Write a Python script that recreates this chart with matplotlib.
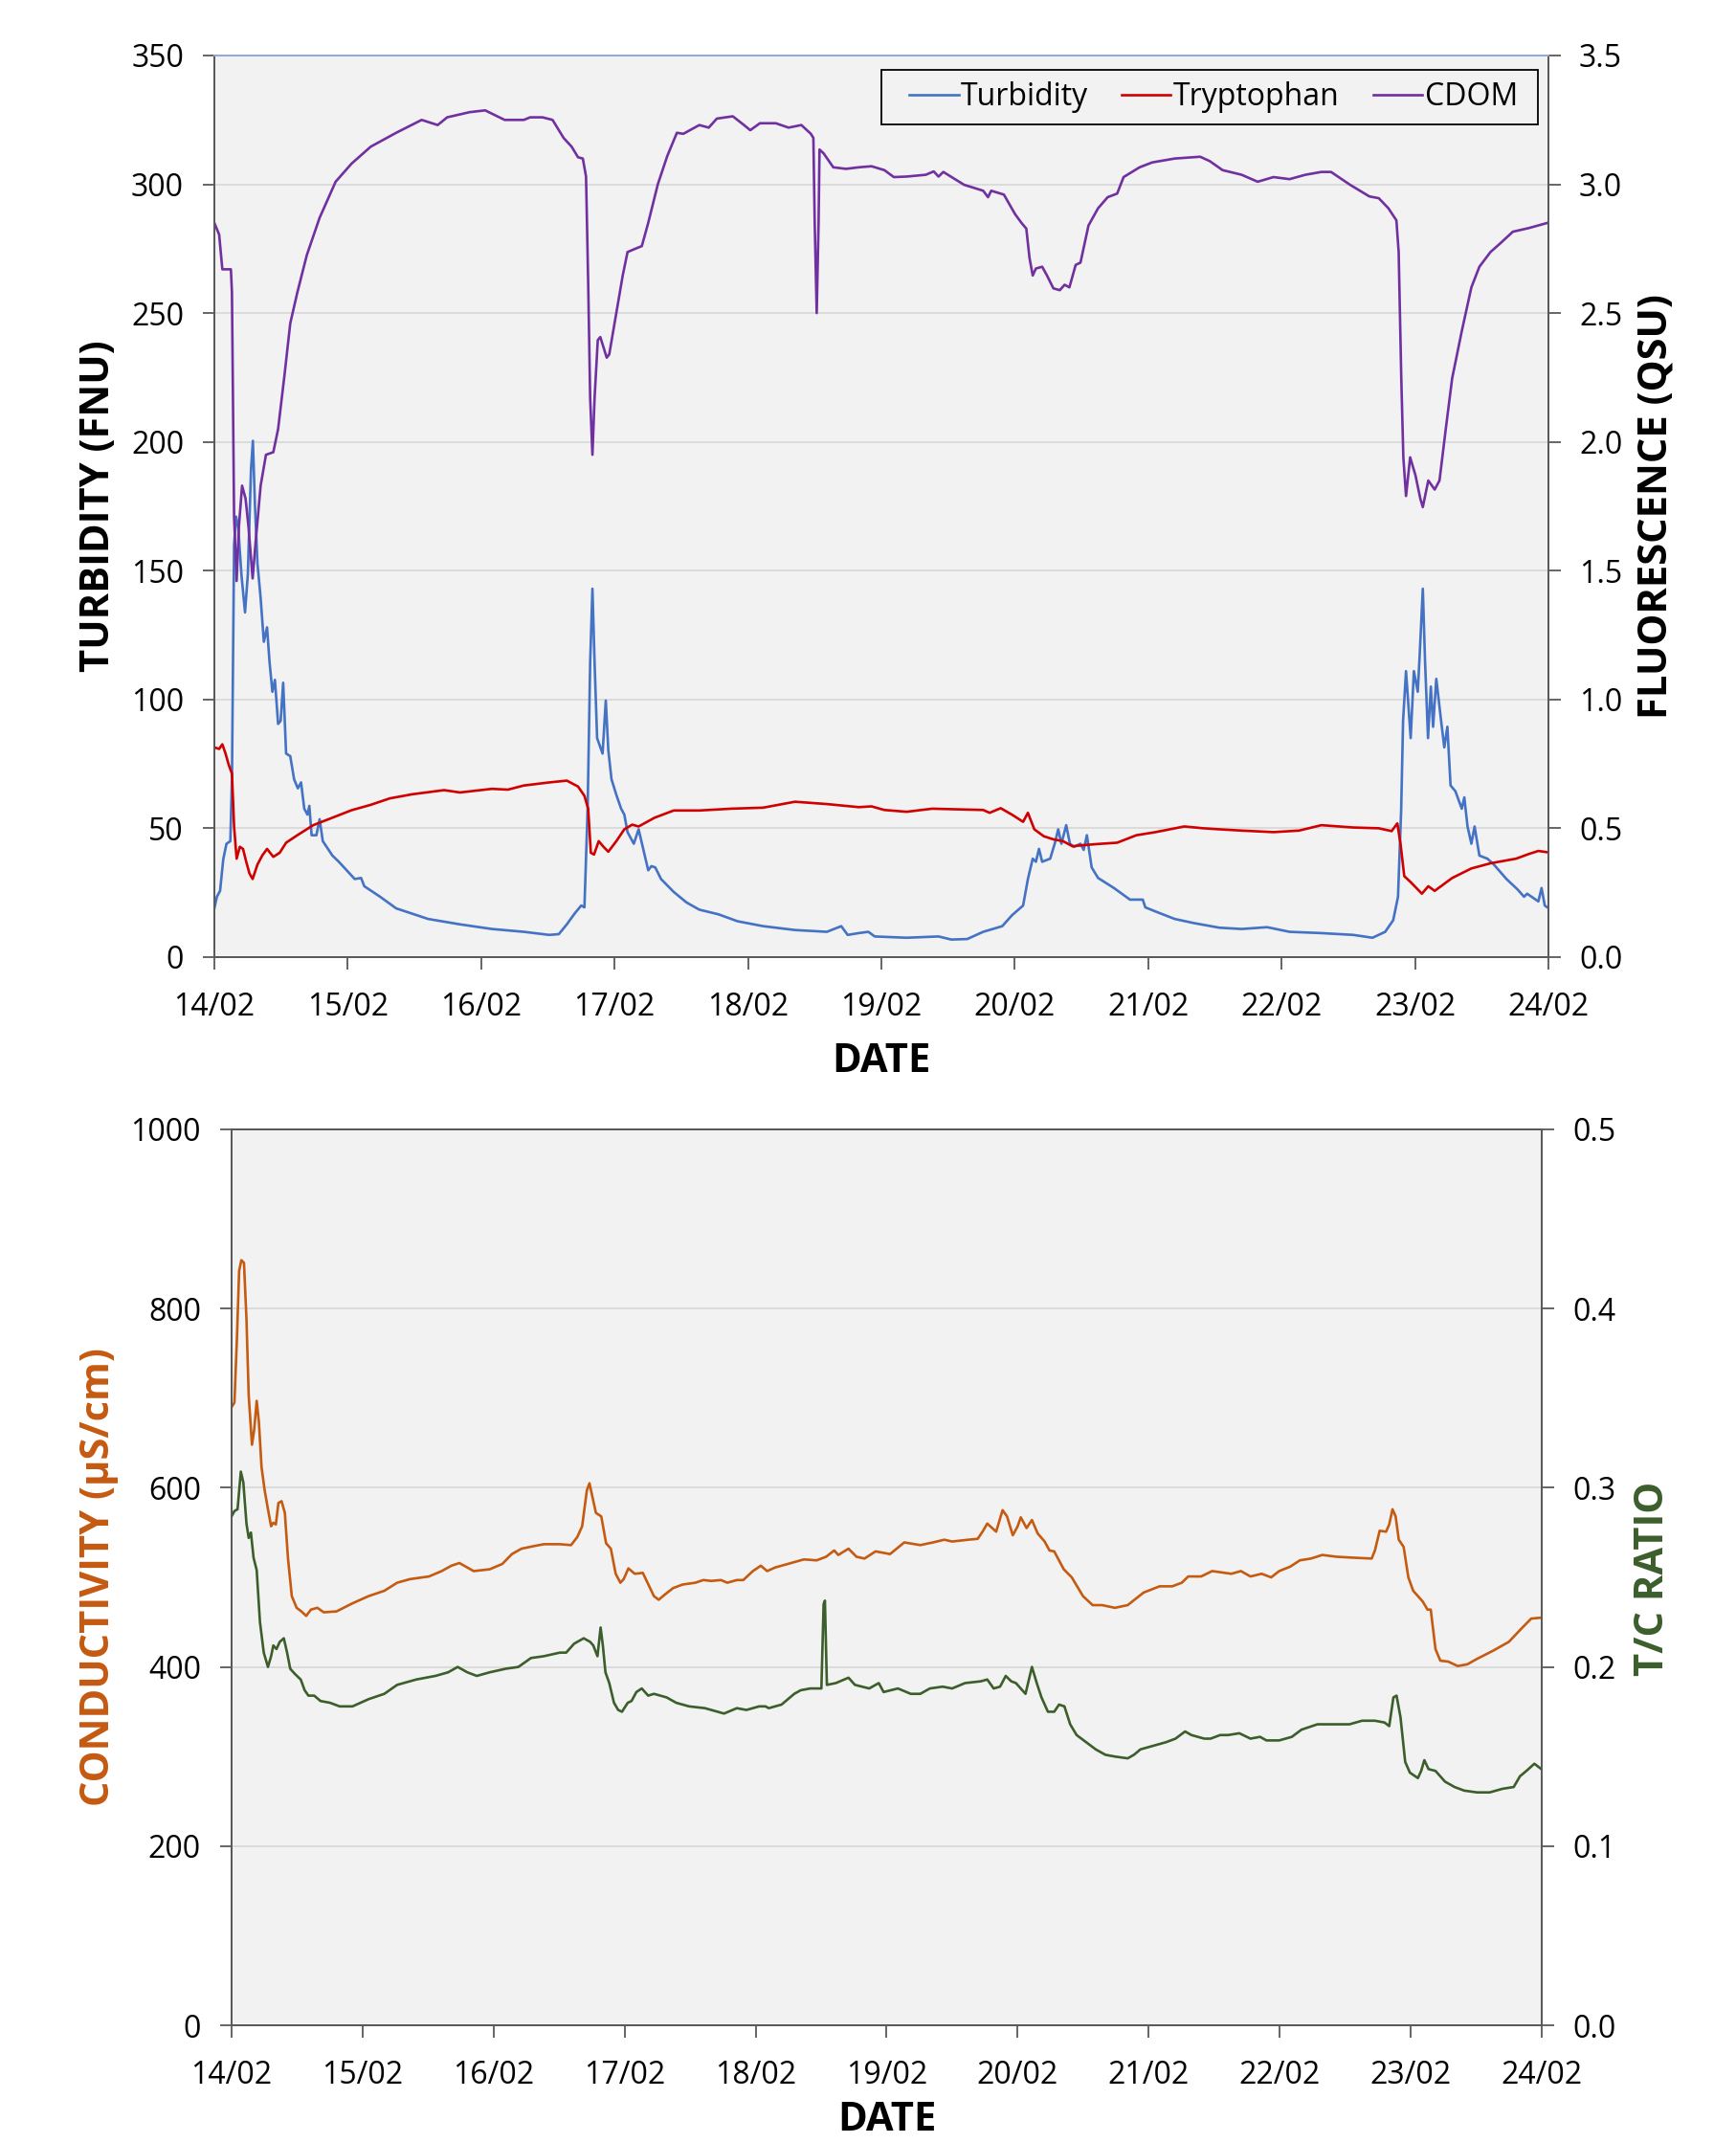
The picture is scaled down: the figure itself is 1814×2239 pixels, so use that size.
import numpy as np
import matplotlib
matplotlib.use("Agg")
import matplotlib.pyplot as plt
from matplotlib.patches import Rectangle
from matplotlib.ticker import FuncFormatter

plt.rcParams['font.family'] = ['Open Sans', 'DejaVu Sans']

# ---------------- data (days since 14/02 00:00) ----------------
START = np.datetime64('2016-02-14T00:00')
date_ticks = ['14/02', '15/02', '16/02', '17/02', '18/02', '19/02', '20/02', '21/02', '22/02', '23/02', '24/02']

turb_day = [0, 0.019, 0.043, 0.067, 0.091, 0.12, 0.132, 0.148, 0.163, 0.179, 0.203, 0.23, 0.251, 0.275, 0.289,
            0.304, 0.323, 0.347, 0.371, 0.395, 0.414, 0.435, 0.454, 0.478, 0.497, 0.516, 0.538, 0.569, 0.598,
            0.626, 0.65, 0.674, 0.698, 0.712, 0.729, 0.765, 0.789, 0.813, 0.885, 0.933, 1.004, 1.052, 1.1, 1.124,
            1.243, 1.363, 1.602, 1.841, 2.08, 2.32, 2.51, 2.582, 2.642, 2.702, 2.75, 2.774, 2.798, 2.817, 2.834,
            2.85, 2.869, 2.91, 2.934, 2.953, 2.977, 3.013, 3.049, 3.073, 3.097, 3.144, 3.18, 3.216, 3.252, 3.276,
            3.305, 3.348, 3.443, 3.539, 3.635, 3.778, 3.922, 4.113, 4.352, 4.591, 4.699, 4.747, 4.83, 4.902, 4.95,
            5.189, 5.428, 5.524, 5.643, 5.763, 5.906, 5.978, 6.062, 6.098, 6.134, 6.158, 6.181, 6.205, 6.265,
            6.301, 6.325, 6.349, 6.385, 6.413, 6.444, 6.492, 6.516, 6.54, 6.576, 6.624, 6.743, 6.863, 6.959,
            6.978, 7.054, 7.198, 7.341, 7.533, 7.7, 7.891, 8.059, 8.298, 8.537, 8.681, 8.776, 8.836, 8.872,
            8.896, 8.91, 8.932, 8.967, 8.991, 9.02, 9.034, 9.058, 9.075, 9.097, 9.118, 9.135, 9.159, 9.195,
            9.219, 9.242, 9.266, 9.302, 9.35, 9.369, 9.393, 9.422, 9.446, 9.482, 9.542, 9.589, 9.685, 9.769,
            9.817, 9.84, 9.924, 9.948, 9.972, 9.991]
turb_val = [18.9, 23.4, 25.7, 38, 44, 45, 69, 160, 171, 167, 148.5, 133.8, 148.5, 189.5, 200.4,
            176, 153, 139.4, 122.4, 128, 114.4, 103, 107.6, 90.5, 91.7, 106.5, 79, 78, 69,
            65.5, 67.8, 57.6, 55.3, 58.7, 47.3, 47.3, 53.5, 45, 39.4, 37, 33, 30.3, 30.7, 27.5,
            23.4, 18.9, 14.8, 12.7, 10.9, 9.8, 8.6, 8.9, 12.7, 17, 20, 19.3, 57.6, 114.4, 143,
            114.4, 85, 79, 99.6, 80.3, 69, 63, 57.6, 55.3, 48.5, 44, 49.6, 41.6, 33.7, 35.3,
            34.8, 30.3, 25.3, 21.2, 18.4, 16.6, 13.9, 12, 10.5, 9.8, 12, 8.6, 9.3, 9.8, 8,
            7.5, 8, 6.8, 7, 9.8, 12, 16.2, 20, 30.3, 38.2, 37, 42, 37, 38.2,
            44.4, 49.6, 44, 51.2, 44, 42.8, 44, 41.6, 47.3, 34.8, 30.7, 26.8, 22.3, 22.3,
            19.3, 17.7, 14.8, 13.2, 11.4, 10.9, 11.6, 9.8, 9.3, 8.6, 7.5, 9.8, 14.3, 23.4,
            57.6, 91.7, 111, 85, 111, 103, 116.7, 143, 114.4, 85, 105, 89.4, 108, 91.7,
            81.4, 89.4, 66.6, 64.4, 57.6, 62, 50.7, 44, 50.7, 39.4, 38.2, 36, 30.3, 26.2,
            23.4, 24.6, 21.6, 26.8, 20, 19.3]

tryp_day = [0, 0.036, 0.06, 0.084, 0.108, 0.132, 0.148, 0.167, 0.191, 0.215, 0.239, 0.263, 0.287, 0.323,
            0.359, 0.395, 0.442, 0.49, 0.538, 0.622, 0.741, 0.885, 1.028, 1.172, 1.315, 1.483, 1.722, 1.841,
            2.08, 2.2, 2.32, 2.51, 2.642, 2.726, 2.774, 2.802, 2.822, 2.846, 2.881, 2.917, 2.953, 3.013,
            3.073, 3.132, 3.18, 3.3, 3.443, 3.635, 3.874, 4.113, 4.352, 4.591, 4.83, 4.926, 5.022, 5.189,
            5.38, 5.763, 5.811, 5.894, 5.978, 6.062, 6.098, 6.146, 6.217, 6.289, 6.361, 6.433, 6.504, 6.624,
            6.767, 6.911, 7.054, 7.27, 7.413, 7.533, 7.7, 7.939, 8.13, 8.298, 8.537, 8.728, 8.824, 8.867,
            8.891, 8.919, 8.967, 9.051, 9.099, 9.147, 9.278, 9.422, 9.565, 9.757, 9.852, 9.924, 9.991]
tryp_val = [0.814, 0.808, 0.826, 0.790, 0.746, 0.712, 0.507, 0.382, 0.428, 0.420, 0.370, 0.325, 0.303, 0.359,
            0.394, 0.420, 0.389, 0.405, 0.444, 0.473, 0.512, 0.541, 0.570, 0.591, 0.616, 0.632, 0.648, 0.639,
            0.653, 0.650, 0.666, 0.678, 0.685, 0.662, 0.626, 0.576, 0.405, 0.398, 0.450, 0.428, 0.409, 0.450,
            0.496, 0.514, 0.507, 0.541, 0.569, 0.569, 0.576, 0.580, 0.603, 0.594, 0.582, 0.585, 0.571, 0.564,
            0.576, 0.571, 0.560, 0.578, 0.553, 0.525, 0.560, 0.496, 0.469, 0.457, 0.450, 0.430, 0.434, 0.439,
            0.444, 0.473, 0.485, 0.507, 0.500, 0.496, 0.491, 0.485, 0.491, 0.512, 0.503, 0.500, 0.489, 0.519,
            0.439, 0.314, 0.291, 0.246, 0.275, 0.257, 0.307, 0.344, 0.364, 0.382, 0.400, 0.412, 0.407]

cdom_day = [0, 0.036, 0.06, 0.096, 0.124, 0.132, 0.148, 0.167, 0.184, 0.208, 0.234, 0.256, 0.287, 0.311,
            0.347, 0.387, 0.442, 0.478, 0.526, 0.569, 0.622, 0.693, 0.789, 0.909, 1.028, 1.172, 1.363, 1.554,
            1.674, 1.745, 1.913, 2.03, 2.176, 2.32, 2.367, 2.46, 2.535, 2.618, 2.678, 2.726, 2.762, 2.786,
            2.802, 2.817, 2.834, 2.85, 2.874, 2.893, 2.941, 2.96, 3.013, 3.061, 3.097, 3.156, 3.204, 3.252,
            3.324, 3.395, 3.467, 3.515, 3.635, 3.706, 3.766, 3.886, 3.97, 4.017, 4.089, 4.208, 4.304, 4.4,
            4.471, 4.49, 4.5, 4.515, 4.529, 4.536, 4.567, 4.639, 4.735, 4.83, 4.926, 5.022, 5.093, 5.189,
            5.333, 5.392, 5.428, 5.464, 5.62, 5.763, 5.799, 5.823, 5.918, 6.002, 6.05, 6.086, 6.11, 6.134,
            6.158, 6.205, 6.241, 6.289, 6.337, 6.373, 6.409, 6.456, 6.492, 6.552, 6.624, 6.696, 6.767, 6.815,
            6.935, 7.03, 7.198, 7.389, 7.461, 7.557, 7.7, 7.82, 7.939, 8.059, 8.178, 8.298, 8.37, 8.513,
            8.657, 8.728, 8.8, 8.86, 8.877, 8.896, 8.912, 8.932, 8.963, 9.003, 9.039, 9.058, 9.099, 9.147,
            9.183, 9.23, 9.278, 9.35, 9.422, 9.482, 9.565, 9.637, 9.733, 9.852, 9.991]
cdom_val = [2.850, 2.805, 2.670, 2.670, 2.670, 2.580, 1.710, 1.460, 1.670, 1.830, 1.780, 1.670, 1.470, 1.620,
            1.830, 1.950, 1.960, 2.050, 2.260, 2.460, 2.580, 2.725, 2.870, 3.010, 3.080, 3.146, 3.200, 3.250,
            3.230, 3.260, 3.280, 3.287, 3.250, 3.250, 3.260, 3.260, 3.250, 3.180, 3.146, 3.105, 3.100, 3.030,
            2.620, 2.170, 1.950, 2.170, 2.395, 2.407, 2.327, 2.340, 2.500, 2.646, 2.737, 2.750, 2.760, 2.850,
            3.000, 3.110, 3.200, 3.196, 3.230, 3.220, 3.255, 3.264, 3.230, 3.210, 3.237, 3.237, 3.220, 3.230,
            3.196, 3.180, 2.850, 2.500, 2.850, 3.135, 3.120, 3.066, 3.060, 3.066, 3.070, 3.055, 3.028, 3.030,
            3.037, 3.050, 3.030, 3.048, 2.998, 2.975, 2.950, 2.975, 2.960, 2.884, 2.850, 2.828, 2.714, 2.646,
            2.673, 2.680, 2.646, 2.596, 2.589, 2.610, 2.600, 2.687, 2.696, 2.840, 2.907, 2.950, 2.964, 3.028,
            3.066, 3.085, 3.100, 3.107, 3.090, 3.055, 3.037, 3.010, 3.028, 3.020, 3.037, 3.048, 3.048, 2.998,
            2.953, 2.946, 2.907, 2.860, 2.737, 2.260, 1.940, 1.790, 1.940, 1.870, 1.780, 1.747, 1.850, 1.815,
            1.850, 2.050, 2.247, 2.430, 2.600, 2.680, 2.737, 2.770, 2.816, 2.830, 2.850]

cond_day = [0, 0.022, 0.041, 0.058, 0.075, 0.095, 0.114, 0.131, 0.156, 0.173, 0.192, 0.209, 0.229, 0.253,
            0.278, 0.302, 0.319, 0.338, 0.358, 0.382, 0.407, 0.431, 0.46, 0.497, 0.533, 0.57, 0.606, 0.655,
            0.704, 0.801, 0.923, 1.045, 1.166, 1.264, 1.361, 1.507, 1.604, 1.678, 1.739, 1.8, 1.848, 1.97,
            2.067, 2.14, 2.213, 2.311, 2.384, 2.506, 2.591, 2.639, 2.676, 2.712, 2.732, 2.756, 2.781, 2.822,
            2.859, 2.895, 2.932, 2.968, 2.993, 3.029, 3.078, 3.139, 3.175, 3.224, 3.26, 3.309, 3.37, 3.443,
            3.54, 3.601, 3.662, 3.735, 3.784, 3.857, 3.906, 3.979, 4.04, 4.088, 4.149, 4.271, 4.368, 4.466,
            4.538, 4.6, 4.631, 4.709, 4.77, 4.831, 4.916, 5.026, 5.135, 5.257, 5.354, 5.44, 5.5, 5.622,
            5.695, 5.732, 5.768, 5.836, 5.885, 5.919, 5.963, 6.0, 6.024, 6.068, 6.109, 6.153, 6.206, 6.243,
            6.279, 6.352, 6.413, 6.499, 6.572, 6.645, 6.742, 6.84, 6.961, 7.083, 7.18, 7.253, 7.302, 7.4,
            7.485, 7.631, 7.704, 7.777, 7.862, 7.935, 7.996, 8.081, 8.154, 8.239, 8.325, 8.434, 8.556, 8.702,
            8.727, 8.763, 8.812, 8.836, 8.861, 8.885, 8.909, 8.946, 8.982, 9.019, 9.092, 9.128, 9.153, 9.189,
            9.226, 9.286, 9.359, 9.433, 9.506, 9.627, 9.749, 9.846, 9.92, 9.997]
cond_val = [690, 695, 766, 842, 854, 851, 788, 703, 648, 665, 697, 673, 623, 597,
            576, 557, 561, 559, 583, 585, 572, 521, 479, 466, 462, 457, 464, 466,
            461, 462, 471, 479, 485, 494, 498, 501, 507, 513, 516, 511, 507, 509,
            515, 526, 532, 535, 537, 537, 536, 545, 557, 597, 605, 589, 572, 568,
            538, 532, 504, 494, 498, 510, 504, 505, 494, 479, 475, 481, 488, 492,
            494, 497, 496, 497, 494, 497, 497, 507, 513, 507, 511, 516, 520, 519,
            523, 530, 525, 532, 523, 521, 529, 526, 539, 536, 539, 542, 540, 542,
            543, 551, 560, 551, 575, 568, 547, 557, 567, 555, 564, 549, 540, 530,
            529, 509, 500, 479, 469, 469, 466, 469, 483, 490, 490, 494, 501, 501,
            507, 504, 507, 501, 504, 500, 507, 512, 519, 521, 525, 523, 522, 521,
            530, 552, 551, 559, 576, 568, 542, 534, 500, 485, 473, 464, 464, 420,
            407, 406, 401, 403, 409, 418, 428, 443, 454, 455]

tc_day = [0, 0.022, 0.046, 0.071, 0.09, 0.114, 0.131, 0.148, 0.168, 0.192, 0.217, 0.246, 0.278, 0.302,
          0.319, 0.343, 0.368, 0.399, 0.424, 0.448, 0.485, 0.528, 0.558, 0.587, 0.631, 0.679, 0.752, 0.825,
          0.923, 1.045, 1.166, 1.264, 1.41, 1.556, 1.653, 1.726, 1.8, 1.872, 1.97, 2.092, 2.189, 2.286,
          2.384, 2.506, 2.554, 2.615, 2.688, 2.737, 2.761, 2.793, 2.817, 2.834, 2.854, 2.883, 2.919, 2.951,
          2.98, 3.024, 3.053, 3.09, 3.131, 3.18, 3.224, 3.321, 3.394, 3.492, 3.613, 3.662, 3.759, 3.857,
          3.93, 4.027, 4.076, 4.1, 4.198, 4.295, 4.344, 4.417, 4.502, 4.519, 4.529, 4.544, 4.612, 4.709,
          4.758, 4.867, 4.94, 4.977, 5.086, 5.184, 5.257, 5.33, 5.427, 5.5, 5.598, 5.719, 5.768, 5.817,
          5.866, 5.909, 5.951, 5.987, 6.024, 6.06, 6.109, 6.146, 6.182, 6.231, 6.279, 6.316, 6.357, 6.401,
          6.45, 6.523, 6.596, 6.669, 6.742, 6.84, 6.888, 6.937, 7.034, 7.132, 7.205, 7.278, 7.326, 7.424,
          7.473, 7.546, 7.606, 7.692, 7.777, 7.85, 7.899, 7.996, 8.093, 8.166, 8.288, 8.41, 8.532, 8.629,
          8.727, 8.8, 8.836, 8.868, 8.892, 8.922, 8.958, 8.994, 9.055, 9.08, 9.104, 9.136, 9.189, 9.262,
          9.335, 9.408, 9.506, 9.603, 9.7, 9.786, 9.834, 9.883, 9.944, 9.997]
tc_val = [0.284, 0.287, 0.288, 0.309, 0.303, 0.280, 0.272, 0.275, 0.261, 0.254, 0.225, 0.208, 0.200, 0.206,
          0.212, 0.210, 0.214, 0.216, 0.208, 0.199, 0.196, 0.193, 0.187, 0.184, 0.184, 0.181, 0.180, 0.178,
          0.178, 0.182, 0.185, 0.190, 0.193, 0.195, 0.197, 0.200, 0.197, 0.195, 0.197, 0.199, 0.200, 0.205,
          0.206, 0.208, 0.208, 0.213, 0.216, 0.214, 0.212, 0.206, 0.222, 0.212, 0.197, 0.191, 0.180, 0.176,
          0.175, 0.180, 0.181, 0.186, 0.188, 0.184, 0.185, 0.183, 0.180, 0.178, 0.177, 0.176, 0.174, 0.177,
          0.176, 0.178, 0.178, 0.177, 0.179, 0.185, 0.187, 0.188, 0.188, 0.235, 0.237, 0.190, 0.191, 0.194,
          0.190, 0.188, 0.191, 0.186, 0.188, 0.185, 0.185, 0.188, 0.189, 0.188, 0.191, 0.192, 0.193, 0.188,
          0.189, 0.195, 0.192, 0.191, 0.188, 0.185, 0.200, 0.191, 0.183, 0.175, 0.175, 0.179, 0.178, 0.168,
          0.162, 0.158, 0.154, 0.151, 0.150, 0.149, 0.151, 0.154, 0.156, 0.158, 0.160, 0.164, 0.162, 0.160,
          0.160, 0.162, 0.162, 0.163, 0.160, 0.161, 0.159, 0.159, 0.161, 0.165, 0.168, 0.168, 0.168, 0.170,
          0.170, 0.169, 0.167, 0.183, 0.184, 0.172, 0.147, 0.141, 0.138, 0.142, 0.148, 0.143, 0.142, 0.136,
          0.133, 0.131, 0.130, 0.130, 0.132, 0.133, 0.139, 0.142, 0.146, 0.143]


def to_dates(days):
    secs = np.round(np.asarray(days, dtype=float) * 86400).astype('int64')
    return START + secs.astype('timedelta64[s]')


# ---------------- styling ----------------
BG = '#f2f2f2'
GRID = '#d9d9d9'
SPINE = '#595959'
C_TURB = '#4472C4'
C_TRYP = '#D00000'
C_CDOM = '#7030A0'
C_COND = '#C55A11'
C_TC = '#3B5E2B'
TICK_FS = 23
LABEL_FS = 30
LW = 1.9

fig = plt.figure(figsize=(18.15, 22.39), dpi=100)
fig.patch.set_facecolor('white')

xlim = (START, START + np.timedelta64(10, 'D'))
xticks = [START + np.timedelta64(i, 'D') for i in range(len(date_ticks))]


def style_axes(ax, ax2, top_color):
    ax.set_facecolor(BG)
    ax.set_xlim(xlim)
    ax.set_xticks(xticks)
    ax.set_xticklabels(date_ticks)
    ax.grid(axis='y', color=GRID, linewidth=1.3)
    ax.grid(axis='x', visible=False)
    ax.set_axisbelow(True)
    for a in (ax, ax2):
        for s in a.spines.values():
            s.set_color(SPINE)
            s.set_linewidth(1.3)
        a.spines['top'].set_color(top_color)
    ax.tick_params(axis='both', labelsize=TICK_FS, length=9, width=1.3, color=SPINE, direction='out')
    ax.tick_params(axis='y', pad=14)
    ax.tick_params(axis='x', pad=17)
    ax2.tick_params(axis='y', labelsize=TICK_FS, length=9, width=1.3, color=SPINE, direction='out', pad=14)
    ax2.patch.set_visible(False)


# ---------------- top panel ----------------
ax1 = fig.add_axes([0.1234, 0.5534, 0.7681, 0.4207])
ax1b = ax1.twinx()
ln1, = ax1.plot(to_dates(turb_day), turb_val, color=C_TURB, lw=LW, label='Turbidity')
ln2, = ax1b.plot(to_dates(tryp_day), tryp_val, color=C_TRYP, lw=LW, label='Tryptophan')
ln3, = ax1b.plot(to_dates(cdom_day), cdom_val, color=C_CDOM, lw=LW, label='CDOM')
ax1.set_ylim(0, 350)
ax1.set_yticks(np.arange(0, 351, 50))
ax1b.set_ylim(0, 3.5)
ax1b.set_yticks(np.arange(0, 3.51, 0.5))
ax1b.yaxis.set_major_formatter(FuncFormatter(lambda v, p: f'{v:.1f}'))
style_axes(ax1, ax1b, '#8FAADC')

# legend frame drawn separately so that its padding matches the reference
ax1b.add_patch(Rectangle((0.5, 0.9236), 0.492, 0.0605, transform=ax1b.transAxes,
                         facecolor=BG, edgecolor='black', linewidth=1.3, zorder=5))
leg = ax1b.legend(handles=[ln1, ln2, ln3], loc='center', bbox_to_anchor=(0.749, 0.9538),
                  ncol=3, fontsize=TICK_FS, frameon=False, borderaxespad=0, borderpad=0,
                  handlelength=1.6, handletextpad=0.08, columnspacing=1.1)
leg.set_zorder(6)

fig.text(0.0573, 0.7637, 'TURBIDITY (FNU)', rotation=90, ha='center', va='center',
         fontsize=LABEL_FS, fontweight='bold', color='black')
fig.text(0.9537, 0.7637, 'FLUORESCENCE (QSU)', rotation=90, ha='center', va='center',
         fontsize=LABEL_FS, fontweight='bold', color='black')
fig.text(0.5074, 0.5046, 'DATE', ha='center', va='center', fontsize=LABEL_FS, fontweight='bold', color='black')

# ---------------- bottom panel ----------------
ax2 = fig.add_axes([0.1333, 0.0549, 0.7543, 0.4181])
ax2b = ax2.twinx()
ax2.plot(to_dates(cond_day), cond_val, color=C_COND, lw=LW)
ax2b.plot(to_dates(tc_day), tc_val, color=C_TC, lw=LW)
ax2.set_ylim(0, 1000)
ax2.set_yticks(np.arange(0, 1001, 200))
ax2b.set_ylim(0, 0.5)
ax2b.set_yticks(np.arange(0, 0.51, 0.1))
ax2b.yaxis.set_major_formatter(FuncFormatter(lambda v, p: f'{v:.1f}'))
style_axes(ax2, ax2b, SPINE)

fig.text(0.0573, 0.264, 'CONDUCTIVITY (µS/cm)', rotation=90, ha='center', va='center',
         fontsize=LABEL_FS, fontweight='bold', color=C_COND)
fig.text(0.952, 0.2635, 'T/C RATIO', rotation=90, ha='center', va='center',
         fontsize=LABEL_FS, fontweight='bold', color=C_TC)
fig.text(0.5107, 0.0012, 'DATE', ha='center', va='bottom', fontsize=LABEL_FS, fontweight='bold', color='black')

fig.savefig('out.png', dpi=100, facecolor='white')
